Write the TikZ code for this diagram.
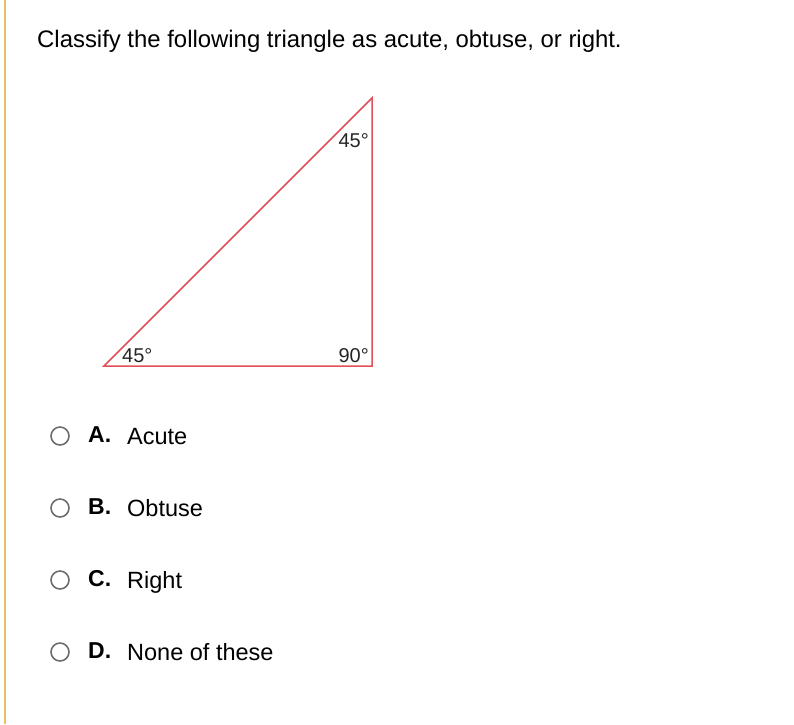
\documentclass[tikz,border=0pt]{standalone}
\usepackage{fontspec}
\setmainfont{Liberation Sans}
\definecolor{gold}{RGB}{232,192,96}
\definecolor{tri}{RGB}{226,80,90}
\definecolor{radio}{RGB}{110,110,110}
\begin{document}
\begin{tikzpicture}[x=1pt,y=-1pt,
  optlabel/.style={anchor=base west,inner sep=0pt,font=\fontsize{23}{26}\selectfont\bfseries},
  opttext/.style={anchor=base west,inner sep=0pt,font=\fontsize{23.5}{26}\selectfont},
  radiobtn/.style={circle,draw=radio,line width=1.6pt,minimum size=18pt,inner sep=0pt},
  anglab/.style={inner sep=0pt,font=\fontsize{20}{22}\selectfont,text=black!85}]
\useasboundingbox (0,0) rectangle (794,724);
\fill[white] (0,0) rectangle (794,724);
\draw[gold,line width=2pt] (5,0) -- (5,724);
\node[anchor=base west,inner sep=0pt,font=\fontsize{23.9}{26}\selectfont] (title) at (37,47) {Classify the following triangle as acute, obtuse, or right.};
% triangle
\coordinate (bl) at (104,366);
\coordinate (tr) at (372,98);
\coordinate (br) at (372,366);
\draw[tri,line width=1.5pt,line join=miter] (bl) -- (tr) -- (br) -- cycle;
\node[anglab,anchor=base east] (a1) at (369,147) {45°};
\node[anglab,anchor=base west] (a2) at (122,362) {45°};
\node[anglab,anchor=base east] (a3) at (369,362) {90°};
% options
\foreach \y/\l/\t/\n in {436/A./Acute/a,508/B./Obtuse/b,580/C./Right/c,652/D./None of these/d}{
  \node[radiobtn] (r\n) at (60,\y) {};
  \node[optlabel] (l\n) at (88,\y+6) {\l};
  \node[opttext] (t\n) at (127,\y+8) {\t};
}
\end{tikzpicture}
\end{document}
